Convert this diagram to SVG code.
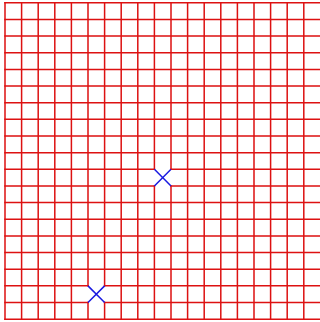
<svg xmlns="http://www.w3.org/2000/svg" width="320" height="322" viewBox="0 0 320 322">
  <style>
    .grid { fill: none; stroke: #dd1111; stroke-width: 1.5; stroke-linecap: square; }
    .mark { fill: none; stroke: #1a1ae0; stroke-width: 1.5; }
  </style>
  <rect x="0" y="0" width="320" height="322" fill="#ffffff"/>
  <g id="grid">
    <path class="grid" d="
      M5 2.8V319.15 M21.6 2.8V319.15 M38.2 2.8V319.15 M54.8 2.8V319.15 M71.4 2.8V319.15
      M88 2.8V285.85 M88 302.5V319.15
      M104.6 2.8V285.85 M104.6 302.5V319.15
      M121.2 2.8V319.15 M137.8 2.8V319.15
      M154.4 2.8V169.3 M154.4 185.95V319.15
      M171 2.8V169.3 M171 185.95V319.15
      M187.6 2.8V319.15 M204.2 2.8V319.15 M220.8 2.8V319.15 M237.4 2.8V319.15
      M254 2.8V319.15 M270.6 2.8V319.15 M287.2 2.8V319.15 M303.8 2.8V319.15"/>
    <path class="grid" d="
      M5 2.8H320.4 M5 19.45H320.4 M5 36.1H320.4 M5 52.75H320.4 M5 69.4H320.4
      M5 86.05H320.4 M5 102.7H320.4 M5 119.35H320.4 M5 136H320.4 M5 152.65H320.4
      M5 169.3H154.4 M171 169.3H320.4
      M5 185.95H154.4 M171 185.95H320.4
      M5 202.6H320.4 M5 219.25H320.4 M5 235.9H320.4 M5 252.55H320.4 M5 269.2H320.4
      M5 285.85H88 M104.6 285.85H320.4
      M5 302.5H88 M104.6 302.5H320.4
      M5 319.15H320.4"/>
  </g>
  <g id="mark1">
    <path class="mark" d="M154.4 169.3L171 185.95M171 169.3L154.4 185.95"/>
  </g>
  <g id="mark2">
    <path class="mark" d="M88 285.85L104.6 302.5M104.6 285.85L88 302.5"/>
  </g>
</svg>
